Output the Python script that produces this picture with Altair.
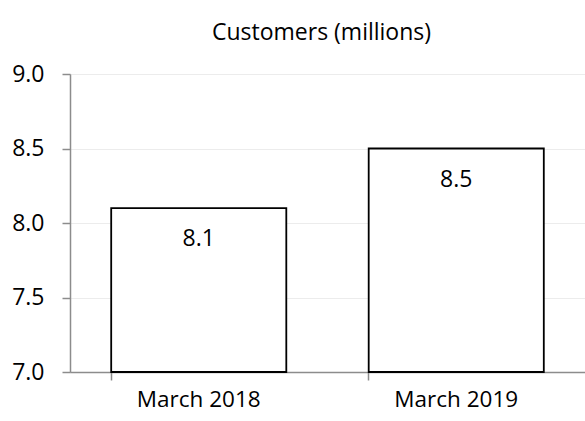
import altair as alt
import pandas as pd

categories = ["March 2018", "March 2019"]
values = [8.1, 8.5]
labels = ["8.1", "8.5"]

df = pd.DataFrame({"cat": categories, "val": values, "lab": labels})

FONT = "Open Sans"

base = alt.Chart(df).encode(
    x=alt.X("cat:N", sort=categories, title=None,
            scale=alt.Scale(paddingInner=0.32, paddingOuter=0.16),
            axis=alt.Axis(labelAngle=0, bandPosition=0, ticks=True, tickSize=8,
                          labelPadding=8, labelFontSize=22.5, labelColor="#000",
                          labelFont=FONT, domainColor="#8c8c8c", tickColor="#8c8c8c",
                          domainWidth=1.5, tickWidth=1.5, grid=False)),
)

bars = base.mark_bar(fill="white", stroke="black", strokeWidth=1.8).encode(
    y=alt.Y("val:Q", title=None,
            scale=alt.Scale(domain=[7.0, 9.0], zero=False, nice=False),
            axis=alt.Axis(values=[7.0, 7.5, 8.0, 8.5, 9.0], format=".1f",
                          labelFontSize=23, labelColor="#000", labelFont=FONT,
                          labelPadding=18, tickSize=8, domainColor="#8c8c8c",
                          tickColor="#8c8c8c", domainWidth=1.5, tickWidth=1.5,
                          grid=True, gridColor="#ececec", gridWidth=1)),
    y2=alt.datum(7.0),
)

text = base.mark_text(baseline="middle", align="center", dy=31, fontSize=23,
                      font=FONT, color="#000").encode(
    y=alt.Y("val:Q"),
    text="lab:N",
)

chart = (bars + text).properties(
    width=515, height=298,
    title=alt.TitleParams("Customers (millions)", fontSize=23, font=FONT,
                          fontWeight="normal", color="#000", offset=18, dx=-6),
    autosize=alt.AutoSizeParams(type="none"),
    padding={"left": 70, "top": 74, "right": 0, "bottom": 49},
).configure_view(stroke=None).configure(background="white")

chart.save("out.html", embed_options={"renderer": "svg", "actions": False})
